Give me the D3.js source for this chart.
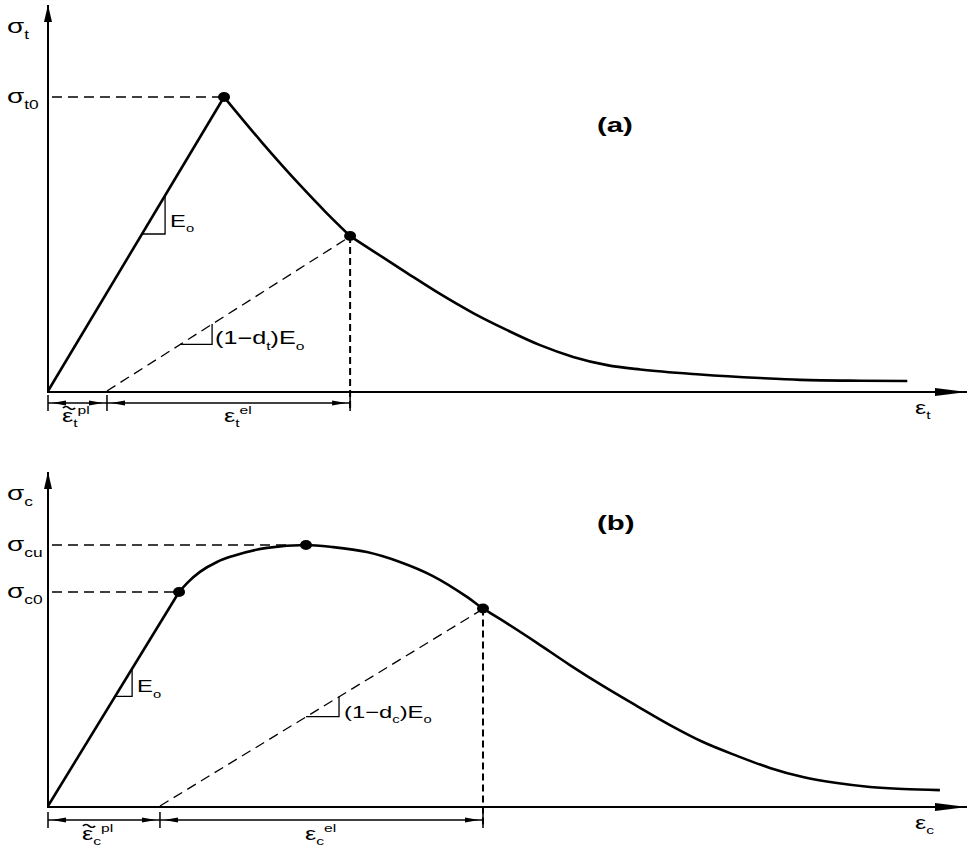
<html>
<head>
<script src="https://d3js.org/d3.v7.min.js"></script>
<style>
  body { margin: 0; background: #fff; }
  text { font-family: "Liberation Sans", Arial, sans-serif; fill: #000; }
  .curve { fill: none; stroke: #000; stroke-width: 2.6; }
  .axis { stroke: #000; stroke-width: 2; }
  .guide { stroke: #000; stroke-width: 1.3; stroke-dasharray: 10,6; fill: none; }
  .drop { stroke: #000; stroke-width: 2; stroke-dasharray: 7,4; }
  .tri { fill: none; stroke: #000; stroke-width: 1.3; }
  .dim { stroke: #000; stroke-width: 1.5; }
  .tilde { fill: none; stroke: #000; stroke-width: 1.4; }
</style>
</head>
<body>
<svg width="975" height="851" id="fig"></svg>
<script>
// (a) tension: strain in units of the peak strain, stress in units of sigma_t0
const tensionPeak = [1, 1];
const tensionSoftening = [
  [1.000, 1.000], [1.216, 0.845], [1.432, 0.700], [1.580, 0.607], [1.716, 0.527],
  [1.847, 0.476], [2.040, 0.401], [2.227, 0.330], [2.415, 0.265], [2.608, 0.207],
  [2.795, 0.156], [2.983, 0.116], [3.176, 0.088], [3.364, 0.073], [3.705, 0.056],
  [4.045, 0.044], [4.273, 0.038], [4.614, 0.035], [4.881, 0.034]
];
const tensionDamagePoint = [1.716, 0.527];
const tensionPlasticStrain = 0.335;

// (b) compression: strain in units of the strain at sigma_cu, stress in units of sigma_cu
const compYield = [0.508, 0.82];
const compPeak = [1, 1];
const compCurve = [
  [0.508, 0.820], [0.543, 0.858], [0.589, 0.897], [0.655, 0.935], [0.717, 0.958],
  [0.849, 0.989], [1.000, 1.000], [1.105, 0.992], [1.236, 0.973], [1.364, 0.935],
  [1.492, 0.881], [1.624, 0.801], [1.686, 0.757], [1.764, 0.709], [1.895, 0.625],
  [2.023, 0.540], [2.151, 0.460], [2.283, 0.383], [2.411, 0.310], [2.539, 0.245],
  [2.671, 0.192], [2.798, 0.146], [2.926, 0.111], [3.058, 0.088], [3.186, 0.073],
  [3.314, 0.065], [3.457, 0.061]
];
const compDamagePoint = [1.686, 0.757];
const compPlasticStrain = 0.434;

// tick-style labels on the stress axes
const tensionStressLabels = [{ value: 1, base: "σ", sub: "t0" }];
const compStressLabels = [
  { value: 1, base: "σ", sub: "cu" },
  { value: 0.82, base: "σ", sub: "c0" }
];

const svg = d3.select("#fig");
const SX = 1.4; // the figure's lettering is drawn wide

const xA = d3.scaleLinear().domain([0, 5.22]).range([48, 967]);
const yA = d3.scaleLinear().domain([0, 1]).range([391, 97]);
const xB = d3.scaleLinear().domain([0, 3.562]).range([48, 967]);
const yB = d3.scaleLinear().domain([0, 1]).range([806, 545]);

// text with sub/superscripts: parts = [[string, "base"|"sub"|"sup"|"tilde"], ...]
function richText(g, x, y, parts, size, bold) {
  const holder = g.append("g").attr("transform", `translate(${x},${y}) scale(${SX},1)`);
  const t = holder.append("text")
    .style("font-size", size + "px")
    .style("font-weight", bold ? "bold" : "normal");
  let shift = 0;
  parts.forEach(function(p) {
    if (p[1] === "tilde") {
      // wavy accent drawn over the base letter
      const h = -size * 0.78;
      holder.append("path").attr("class", "tilde")
        .attr("d", `M${size * 0.04},${h} q${size * 0.12},${-size * 0.16} ${size * 0.24},0 t${size * 0.24},0`);
      t.append("tspan").attr("dy", -shift).text(p[0]);
      shift = 0;
      return;
    }
    const target = p[1] === "sub" ? size * 0.3 : p[1] === "sup" ? -size * 0.42 : 0;
    t.append("tspan")
      .attr("dy", target - shift)
      .style("font-size", (p[1] === "base" ? size : size * 0.62) + "px")
      .text(p[0]);
    shift = target;
  });
  return holder;
}

function drawPanel(cfg) {
  const g = svg.append("g");
  const x = cfg.x, y = cfg.y;
  const x0 = x(0), y0 = y(0);
  const xEnd = x.range()[1];
  const line = d3.line().x(d => x(d[0])).y(d => y(d[1]));

  // axes with arrow heads
  g.append("line").attr("class", "axis")
    .attr("x1", x0).attr("y1", y0 + 1).attr("x2", x0).attr("y2", cfg.yTop);
  g.append("path")
    .attr("d", `M${x0},${cfg.yTop} L${x0 - 4},${cfg.yTop + 17} L${x0 + 4},${cfg.yTop + 17} Z`);
  g.append("line").attr("class", "axis")
    .attr("x1", x0 - 1).attr("y1", y0 + 1).attr("x2", xEnd).attr("y2", y0 + 1);
  g.append("path")
    .attr("d", `M${xEnd},${y0 + 1} L${xEnd - 32},${y0 - 3} L${xEnd - 32},${y0 + 5} Z`);

  // horizontal guide lines from stress axis
  cfg.stressLabels.forEach(function(s) {
    g.append("line").attr("class", "guide")
      .attr("x1", x0 + 4).attr("y1", y(s.value))
      .attr("x2", s.to).attr("y2", y(s.value));
    richText(g, 7, y(s.value) + 6, [[s.base, "base"], [s.sub, "sub"]], 20);
  });

  // unloading line
  g.append("line").attr("class", "guide")
    .attr("x1", x(cfg.plastic)).attr("y1", y0)
    .attr("x2", x(cfg.damage[0]) - 4).attr("y2", y(cfg.damage[1]) + 3);

  // vertical drop from damage point
  g.append("line").attr("class", "drop")
    .attr("x1", x(cfg.damage[0])).attr("y1", y(cfg.damage[1]))
    .attr("x2", x(cfg.damage[0])).attr("y2", cfg.dimY + 7);

  // elastic branch
  g.append("path").attr("class", "curve").attr("d", line([[0, 0], cfg.elasticEnd]));

  // nonlinear branch, optionally split at the damage point
  const smooth = d3.line().x(d => x(d[0])).y(d => y(d[1])).curve(d3.curveMonotoneX);
  if (cfg.splitAtDamage) {
    const k = cfg.curve.findIndex(d => d[0] === cfg.damage[0]);
    g.append("path").attr("class", "curve").attr("d", smooth(cfg.curve.slice(0, k + 1)));
    g.append("path").attr("class", "curve").attr("d", smooth(cfg.curve.slice(k)));
  } else {
    g.append("path").attr("class", "curve").attr("d", smooth(cfg.curve));
  }

  // slope triangles
  cfg.triangles.forEach(function(tr) {
    const a = [tr.u1, tr.o + tr.k * tr.u1];
    const b = [tr.u2, tr.o + tr.k * tr.u1];
    const c = [tr.u2, tr.o + tr.k * tr.u2];
    g.append("path").attr("class", "tri").attr("d", line([a, b, c]));
    richText(g, x(tr.u2) + tr.dx, y(b[1]) + tr.dy, tr.label, tr.size);
  });

  // marked points
  g.selectAll("ellipse.pt").data(cfg.points).enter().append("ellipse")
    .attr("cx", d => x(d[0])).attr("cy", d => y(d[1]))
    .attr("rx", 6).attr("ry", 5).attr("fill", "#000");

  // dimension line below the axis
  const ticks = [0, cfg.plastic, cfg.damage[0]];
  g.append("line").attr("class", "dim")
    .attr("x1", x(0)).attr("y1", cfg.dimY).attr("x2", x(cfg.damage[0])).attr("y2", cfg.dimY);
  ticks.forEach(function(t) {
    g.append("line").attr("class", "dim")
      .attr("x1", x(t)).attr("y1", cfg.dimY - 8).attr("x2", x(t)).attr("y2", cfg.dimY + 8);
  });
  [[0, 1], [cfg.plastic, -1], [cfg.plastic, 1], [cfg.damage[0], -1]].forEach(function(a) {
    const tip = x(a[0]) + a[1] * 4;
    const base = tip + a[1] * 14;
    g.append("path")
      .attr("d", `M${tip},${cfg.dimY} L${base},${cfg.dimY - 2.5} L${base},${cfg.dimY + 2.5} Z`);
  });
  richText(g, cfg.plLabel[0], cfg.plLabel[1],
    [["ε", "tilde"], [cfg.sub, "sub"], ["pl", "sup"]], 18);
  richText(g, cfg.elLabel[0], cfg.elLabel[1],
    [["ε", "base"], [cfg.sub, "sub"], ["el", "sup"]], 18);

  // axis names and panel tag
  richText(g, 7, cfg.yTop + 28, [["σ", "base"], [cfg.sub, "sub"]], 20);
  richText(g, 915, y0 + 23, [["ε", "base"], [cfg.sub, "sub"]], 18);
  richText(g, 597, cfg.tagY, [[cfg.tag, "base"]], 21, true);
}

// elastic slope in data units: tension E = 1, compression E = 0.82/0.508
const Ec = compYield[1] / compYield[0];
const kA = tensionDamagePoint[1] / (tensionDamagePoint[0] - tensionPlasticStrain);
const kB = compDamagePoint[1] / (compDamagePoint[0] - compPlasticStrain);

drawPanel({
  x: xA, y: yA, yTop: 5, sub: "t", tag: "(a)", tagY: 132,
  stressLabels: tensionStressLabels.map(s => Object.assign({ to: xA(tensionPeak[0]) - 5 }, s)),
  elasticEnd: tensionPeak,
  curve: tensionSoftening,
  splitAtDamage: true,
  damage: tensionDamagePoint,
  plastic: tensionPlasticStrain,
  points: [tensionPeak, tensionDamagePoint],
  dimY: 403,
  plLabel: [62, 422], elLabel: [224, 422],
  triangles: [
    { u1: 0.534, u2: 0.665, k: 1, o: 0, dx: 5, dy: -7, size: 17,
      label: [["E", "base"], ["o", "sub"]] },
    { u1: 0.75, u2: 0.932, k: kA, o: -kA * tensionPlasticStrain, dx: 3, dy: 0, size: 18,
      label: [["(1−d", "base"], ["t", "sub"], [")E", "base"], ["o", "sub"]] }
  ]
});

drawPanel({
  x: xB, y: yB, yTop: 472, sub: "c", tag: "(b)", tagY: 530,
  stressLabels: compStressLabels.map(s => Object.assign({ to: s.value === 1 ? xB(compPeak[0]) - 20 : xB(compYield[0]) - 5 }, s)),
  elasticEnd: compYield,
  curve: compCurve,
  splitAtDamage: false,
  damage: compDamagePoint,
  plastic: compPlasticStrain,
  points: [compYield, compPeak, compDamagePoint],
  dimY: 820,
  plLabel: [82, 840], elLabel: [305, 840],
  triangles: [
    { u1: 0.26, u2: 0.326, k: Ec, o: 0, dx: 5, dy: -4, size: 17,
      label: [["E", "base"], ["o", "sub"]] },
    { u1: 1.0, u2: 1.128, k: kB, o: -kB * compPlasticStrain, dx: 5, dy: 1, size: 17,
      label: [["(1−d", "base"], ["c", "sub"], [")E", "base"], ["o", "sub"]] }
  ]
});
</script>
</body>
</html>
